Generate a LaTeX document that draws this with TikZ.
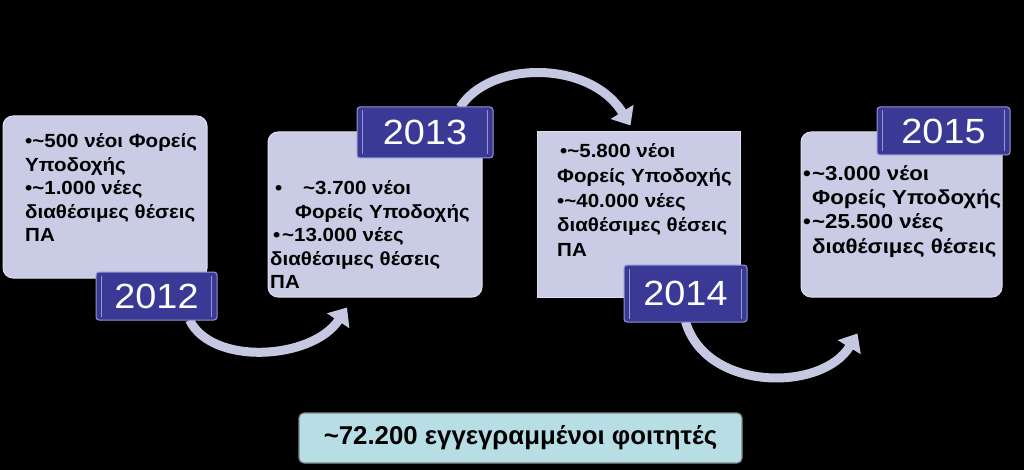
\documentclass[tikz,border=0pt]{standalone}
\usepackage{fontspec}
\setmainfont{Liberation Sans}
\newfontfamily\wfont[FakeStretch=1.08]{Liberation Sans}
\newfontfamily\wwfont[FakeStretch=1.1]{Liberation Sans}
\usetikzlibrary{arrows.meta,calc}
\definecolor{boxfill}{RGB}{202,203,228}
\definecolor{boxedge}{RGB}{222,223,240}
\definecolor{labfill}{RGB}{58,58,150}
\definecolor{labedge}{RGB}{150,150,212}
\definecolor{arccol}{RGB}{198,200,226}
\definecolor{sumfill}{RGB}{184,222,229}
\definecolor{sumedge}{RGB}{128,138,140}
\newcommand\mytilde{\textasciitilde}
\begin{document}
\begin{tikzpicture}[x=1pt,y=-1pt,
  tbox/.style={fill=boxfill, draw=boxedge, line width=1pt, inner sep=0},
  lab/.style={fill=labfill, draw=labedge, line width=1pt, rounded corners=3pt, text=white, font=\wfont\fontsize{35}{40}\selectfont, inner sep=0},
  ln/.style={anchor=base west, inner sep=0, font=\wfont\bfseries\fontsize{19}{22}\selectfont},
  lnb/.style={anchor=base west, inner sep=0, font=\wwfont\bfseries\fontsize{20.2}{24}\selectfont},
  arcarrow/.style={draw=arccol, line width=9pt, -{Triangle[width=26pt,length=16pt]}},
  bevel/.style={draw=labedge, line width=1.2pt}
]
\fill[black] (0,0) rectangle (1024,470);
\useasboundingbox (0,0) rectangle (1024,470);

% text boxes
\node[tbox, rounded corners=10pt, minimum width=204pt, minimum height=162pt] (b1) at (105,197) {};
\node[tbox, rounded corners=10pt, minimum width=214pt, minimum height=165pt] (b2) at (375,214.5) {};
\node[tbox, minimum width=203pt, minimum height=165pt] (b3) at (638.5,214.5) {};
\node[tbox, rounded corners=10pt, minimum width=201pt, minimum height=165pt] (b4) at (901.5,214.5) {};

% connectors
\coordinate (c1) at (156.5,296);
\coordinate (c2) at (425,132.5);
\coordinate (c3) at (685.5,293.5);
\draw[arcarrow] ([xshift=33pt,yshift=-24pt]c1) .. controls (212,366) and (312,360) .. ([xshift=-28pt,yshift=-10pt]b2.south);
\draw[arcarrow] ([xshift=35pt,yshift=25pt]c2) .. controls (490,60) and (590,60) .. ([xshift=-8pt,yshift=6pt]b3.north);
\draw[arcarrow] ([yshift=-28pt]c3) .. controls (706,392) and (822,392) .. ([xshift=-44pt,yshift=-36pt]b4.south);

% labels
\node[lab, minimum width=121pt, minimum height=48pt] (l1) at (c1) {2012};
\node[lab, minimum width=136pt, minimum height=51pt] (l2) at (c2) {2013};
\node[lab, minimum width=123pt, minimum height=57pt] (l3) at (c3) {2014};
\node[lab, minimum width=133pt, minimum height=48pt] (l4) at (943.5,131) {2015};
\foreach \l in {l1,l2,l3,l4}{
  \draw[bevel] ($(\l.north west)+(6,4)$) -- ($(\l.south west)+(6,-4)$);
  \draw[bevel] ($(\l.north east)+(-6,4)$) -- ($(\l.south east)+(-6,-4)$);
}

% box 1 text
\node[ln] (t1a) at (25,147.7) {•\mytilde500 νέοι Φορείς};
\node[ln] (t1b) at (25,171.5) {Υποδοχής};
\node[ln] (t1c) at (25,195) {•\mytilde1.000 νέες};
\node[ln] (t1d) at (25,218.3) {διαθέσιμες θέσεις};
\node[ln] (t1e) at (25,241.7) {ΠΑ};

% box 2 text
\node[ln] (t2p) at (275,195) {•};
\node[ln] (t2a) at (303,195) {\mytilde3.700 νέοι};
\node[ln] (t2b) at (295,218.3) {Φορείς Υποδοχής};
\node[ln] (t2q) at (273,241.7) {•};
\node[ln] (t2c) at (282,241.7) {\mytilde13.000 νέες};
\node[ln] (t2d) at (270,265) {διαθέσιμες θέσεις};
\node[ln] (t2e) at (270,288.3) {ΠΑ};

% box 3 text
\node[ln] (t3a) at (560,158) {•\mytilde5.800 νέοι};
\node[ln] (t3b) at (557,182.5) {Φορείς Υποδοχής};
\node[ln] (t3c) at (557,207.5) {•\mytilde40.000 νέες};
\node[ln] (t3d) at (557,231.7) {διαθέσιμες θέσεις};
\node[ln] (t3e) at (557,256.5) {ΠΑ};

% box 4 text
\node[lnb] (t4p) at (803,180.7) {•};
\node[lnb] (t4a) at (812,180.7) {\mytilde3.000 νέοι};
\node[lnb] (t4b) at (812,205) {Φορείς Υποδοχής};
\node[lnb] (t4q) at (803,228.5) {•};
\node[lnb] (t4c) at (812,228.5) {\mytilde25.500 νέες};
\node[lnb] (t4d) at (812,253) {διαθέσιμες θέσεις};

% summary
\node[fill=sumfill, draw=sumedge, line width=1.2pt, rounded corners=5pt, minimum width=443pt, minimum height=50pt, inner sep=0, font=\bfseries\fontsize{25.8}{30}\selectfont] (s) at (520.5,438) {\mytilde72.200 εγγεγραμμένοι φοιτητές};
\end{tikzpicture}
\end{document}
